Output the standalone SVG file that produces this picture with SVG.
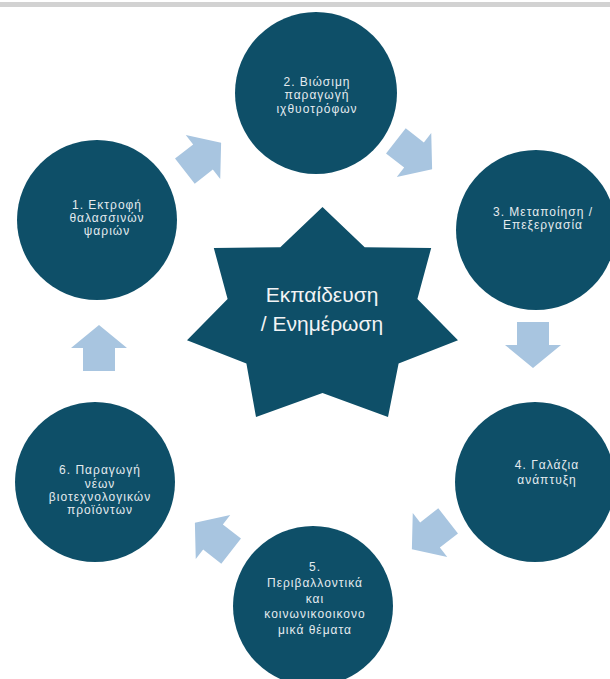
<svg xmlns="http://www.w3.org/2000/svg" xmlns:xlink="http://www.w3.org/1999/xlink" width="610" height="679" viewBox="0 0 610 679">
<style>
.node{fill:#0e4f68}
.lbl{font-family:"Liberation Sans",Arial,sans-serif;font-size:12px;fill:#e4ebef;text-anchor:middle;letter-spacing:1px}
.star{font-family:"Liberation Sans",Arial,sans-serif;font-size:21px;fill:#f2f4f5;text-anchor:middle}
.arrow{fill:#a8c5e0}
</style>
<defs>
<path id="arr" d="M-23,-16 L0,-16 L0,-28 L23,0 L0,28 L0,16 L-23,16 Z"/>
</defs>
<rect x="0" y="0" width="610" height="679" fill="#ffffff"/>
<rect x="0" y="2" width="610" height="5" fill="#d2d2d2"/>
<g id="connectors" class="arrow">
<use xlink:href="#arr" transform="translate(203,157) rotate(-38)"/>
<use xlink:href="#arr" transform="translate(414,155) rotate(38)"/>
<use xlink:href="#arr" transform="translate(533,345) rotate(90)"/>
<use xlink:href="#arr" transform="translate(430,535) rotate(142)"/>
<use xlink:href="#arr" transform="translate(213,537) rotate(218)"/>
<use xlink:href="#arr" transform="translate(99,348) rotate(270)"/>
</g>
<g id="center">
<polygon class="node" points="322.5,207 364.7,247.3 431.2,248 417.4,299 458,340.3 398.6,363.6 388,417 322.5,393 256,417 246.4,363.6 187,340.3 227.6,299 213.8,248 280.3,247.3"/>
<text class="star" x="322" y="302">Εκπαίδευση</text>
<text class="star" x="322" y="331">/ Ενημέρωση</text>
</g>
<g id="n1">
<circle class="node" cx="97" cy="220" r="80"/>
<text class="lbl" x="107" y="209">1. Εκτροφή</text>
<text class="lbl" x="107" y="222">θαλασσινών</text>
<text class="lbl" x="107" y="235">ψαριών</text>
</g>
<g id="n2">
<circle class="node" cx="316" cy="93" r="81"/>
<text class="lbl" x="317" y="86">2. Βιώσιμη</text>
<text class="lbl" x="317" y="99">παραγωγή</text>
<text class="lbl" x="317" y="113">ιχθυοτρόφων</text>
</g>
<g id="n3">
<circle class="node" cx="536" cy="230" r="80"/>
<text class="lbl" x="543" y="216">3. Μεταποίηση /</text>
<text class="lbl" x="543" y="229">Επεξεργασία</text>
</g>
<g id="n4">
<circle class="node" cx="535" cy="482" r="80"/>
<text class="lbl" x="547" y="469">4. Γαλάζια</text>
<text class="lbl" x="547" y="484">ανάπτυξη</text>
</g>
<g id="n5">
<circle class="node" cx="313" cy="606" r="80"/>
<text class="lbl" x="315" y="571">5.</text>
<text class="lbl" x="315" y="587">Περιβαλλοντικά</text>
<text class="lbl" x="315" y="603">και</text>
<text class="lbl" x="315" y="618">κοινωνικοοικονο</text>
<text class="lbl" x="315" y="634">μικά θέματα</text>
</g>
<g id="n6">
<circle class="node" cx="95" cy="482" r="80"/>
<text class="lbl" x="100" y="474">6. Παραγωγή</text>
<text class="lbl" x="100" y="488">νέων</text>
<text class="lbl" x="100" y="501">βιοτεχνολογικών</text>
<text class="lbl" x="100" y="514">προϊόντων</text>
</g>
</svg>
